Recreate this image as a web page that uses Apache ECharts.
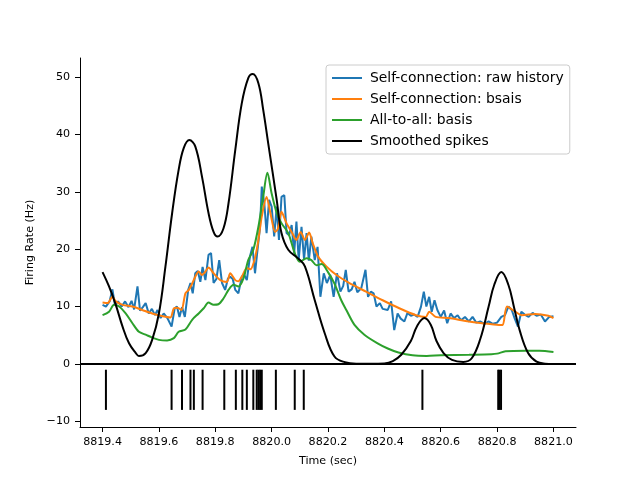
<!DOCTYPE html>
<html><head><meta charset="utf-8">
<script src="https://cdn.jsdelivr.net/npm/echarts@6/dist/echarts.min.js"></script>
<style>html,body{margin:0;padding:0;background:#fff}#c{width:640px;height:480px}</style>
</head><body><div id="c"></div>
<script>
// Self-connection: raw history
const rawT = [8819.400,8819.412,8819.425,8819.435,8819.444,8819.455,8819.468,8819.480,8819.492,8819.503,
8819.512,8819.524,8819.533,8819.543,8819.553,8819.564,8819.575,8819.586,8819.595,8819.606,
8819.617,8819.630,8819.645,8819.656,8819.664,8819.673,8819.682,8819.692,8819.704,8819.712,
8819.720,8819.729,8819.738,8819.747,8819.755,8819.765,8819.776,8819.785,8819.794,8819.804,
8819.814,8819.824,8819.835,8819.845,8819.853,8819.862,8819.871,8819.882,8819.894,8819.902,
8819.912,8819.923,8819.932,8819.941,8819.951,8819.959,8819.965,8819.974,8819.982,8819.991,
8820.000,8820.009,8820.018,8820.026,8820.035,8820.045,8820.053,8820.062,8820.071,8820.080,
8820.088,8820.096,8820.106,8820.115,8820.124,8820.132,8820.141,8820.153,8820.163,8820.173,
8820.185,8820.196,8820.208,8820.220,8820.232,8820.244,8820.254,8820.263,8820.273,8820.284,
8820.294,8820.304,8820.318,8820.333,8820.342,8820.352,8820.362,8820.372,8820.384,8820.394,
8820.412,8820.424,8820.435,8820.447,8820.458,8820.471,8820.482,8820.494,8820.506,8820.518,
8820.530,8820.540,8820.549,8820.559,8820.568,8820.578,8820.588,8820.600,8820.612,8820.623,
8820.635,8820.647,8820.660,8820.672,8820.686,8820.700,8820.713,8820.726,8820.740,8820.755,
8820.770,8820.785,8820.800,8820.815,8820.828,8820.840,8820.852,8820.862,8820.874,8820.886,
8820.898,8820.912,8820.926,8820.940,8820.955,8820.970,8820.985,8821.000];
const rawV = [10.3,10.0,10.9,13.0,10.3,10.9,10.0,10.9,9.9,11.0,
9.5,13.5,9.3,9.9,10.6,8.8,9.6,8.5,9.4,8.0,
8.8,8.0,6.5,9.7,10.0,8.2,9.9,8.2,12.9,14.1,
12.3,15.8,16.2,14.3,16.9,14.6,19.0,19.3,14.1,14.8,
18.1,14.1,12.9,14.9,15.2,14.8,12.9,12.3,15.2,15.6,
14.6,18.7,20.4,15.8,20.4,23.9,30.9,28.0,22.8,28.6,
27.4,22.2,27.4,21.6,29.1,29.4,22.8,22.4,24.2,19.3,
24.8,18.1,23.9,18.2,22.8,18.0,22.2,18.1,20.4,11.7,
15.8,14.1,15.5,11.7,15.8,12.6,13.6,16.4,12.6,13.0,
14.3,12.5,13.2,16.4,11.7,12.6,12.3,10.0,10.6,9.6,
9.4,10.9,5.9,8.8,7.9,7.4,8.9,8.4,8.6,8.2,
10.0,12.6,10.0,11.7,9.1,11.1,9.4,8.2,9.3,7.1,
8.8,8.0,8.5,7.6,8.2,7.4,8.2,7.2,7.4,7.0,
7.4,7.0,7.2,8.2,8.5,10.0,9.4,8.0,6.5,9.1,
8.6,8.2,8.9,8.4,8.6,7.4,8.2,8.3];

// Self-connection: bsais
const bsT = [8819.400,8819.418,8819.435,8819.447,8819.471,8819.506,8819.541,8819.576,8819.606,8819.641,
8819.653,8819.666,8819.680,8819.694,8819.706,8819.718,8819.729,8819.741,8819.753,8819.765,
8819.776,8819.794,8819.818,8819.841,8819.853,8819.871,8819.882,8819.894,8819.912,8819.925,
8819.939,8819.951,8819.965,8819.982,8819.998,8820.012,8820.022,8820.035,8820.053,8820.071,
8820.088,8820.103,8820.118,8820.133,8820.146,8820.165,8820.194,8820.230,8820.276,8820.335,
8820.394,8820.453,8820.512,8820.547,8820.559,8820.582,8820.629,8820.688,8820.747,8820.806,
8820.820,8820.835,8820.865,8820.888,8820.935,8820.982,8821.000];
const bsV = [10.7,10.6,11.7,10.9,10.3,10.0,9.4,8.8,8.4,8.1,
9.7,9.8,9.4,12.3,12.9,14.0,15.2,16.1,15.5,16.1,
16.8,15.8,14.6,14.3,15.8,14.6,14.4,15.2,16.7,16.5,
18.1,21.0,25.7,29.1,25.7,23.0,23.5,26.5,24.5,23.0,
21.6,23.0,21.6,22.9,21.0,18.7,17.0,15.5,14.1,12.6,
11.1,9.7,8.5,8.2,9.1,8.2,8.0,7.5,7.1,6.8,
6.8,10.0,9.1,8.5,8.7,8.4,8.0];

// All-to-all: basis
const a2aT = [8819.400,8819.423,8819.441,8819.459,8819.482,8819.506,8819.529,8819.553,8819.576,8819.600,
8819.629,8819.653,8819.670,8819.694,8819.718,8819.741,8819.759,8819.776,8819.794,8819.811,
8819.829,8819.847,8819.865,8819.882,8819.900,8819.917,8819.935,8819.953,8819.970,8819.985,
8820.000,8820.018,8820.035,8820.059,8820.082,8820.100,8820.124,8820.141,8820.159,8820.177,
8820.200,8820.223,8820.247,8820.264,8820.294,8820.329,8820.376,8820.412,8820.450,8820.500,
8820.550,8820.600,8820.700,8820.780,8820.800,8820.830,8820.900,8820.950,8821.000];
const a2aV = [8.5,9.1,10.3,10.0,8.8,7.1,5.6,5.1,4.6,4.2,
4.1,4.5,5.6,6.0,7.7,8.8,9.7,10.7,10.3,10.4,
11.4,12.9,13.8,13.5,14.9,18.1,19.9,23.9,29.1,33.3,
29.7,26.3,24.5,22.8,19.3,17.8,18.4,18.1,17.2,17.4,
16.0,14.0,11.1,9.5,6.8,5.1,3.6,2.7,2.0,1.5,
1.4,1.5,1.6,1.7,1.8,2.2,2.3,2.3,2.1];

// Smoothed spikes
const smT = [8819.400,8819.423,8819.447,8819.471,8819.494,8819.518,8819.529,8819.553,8819.576,8819.600,
8819.623,8819.647,8819.670,8819.688,8819.708,8819.729,8819.753,8819.776,8819.794,8819.808,
8819.829,8819.847,8819.871,8819.894,8819.917,8819.933,8819.953,8819.970,8819.988,8820.018,
8820.035,8820.059,8820.094,8820.118,8820.153,8820.188,8820.223,8820.260,8820.300,8820.350,
8820.400,8820.430,8820.460,8820.494,8820.515,8820.542,8820.565,8820.585,8820.610,8820.640,
8820.680,8820.710,8820.740,8820.770,8820.790,8820.815,8820.840,8820.860,8820.880,8820.910,
8820.940,8820.970,8821.000];
const smV = [16.0,13.5,10.3,6.5,3.6,1.9,1.4,1.9,4.2,8.8,
16.9,26.3,33.8,37.6,39.0,37.9,32.6,26.3,23.0,22.2,
23.6,28.0,37.3,45.4,49.8,50.5,48.9,44.3,38.4,28.6,
22.8,19.9,18.4,17.0,11.1,5.4,1.3,0.3,0.05,0.05,
0.1,0.5,1.6,4.0,6.5,8.0,6.8,4.0,1.9,0.7,
0.35,1.0,4.3,10.0,13.8,16.0,13.8,9.9,5.9,1.9,
0.4,0.06,0.01];

// Spike times (raster)
const spikeTimes = [8819.412,8819.645,8819.682,8819.712,8819.724,8819.755,8819.832,8819.873,8819.896,8819.912,
8819.935,8819.947,8819.953,8819.959,8819.965,8820.015,8820.082,8820.114,8820.535,8820.804,8820.808,8820.814];
const rasterTop = -1, rasterBottom = -8;

const xTicks = [8819.4,8819.6,8819.8,8820.0,8820.2,8820.4,8820.6,8820.8,8821.0];
const yTicks = [-10,0,10,20,30,40,50];

const zip = (a, b) => a.slice(0, Math.min(a.length, b.length)).map((t, i) => [t, b[i]]);
const FONT = 'DejaVu Sans';
const minus = s => String(s).replace('-', '\u2212');

const chart = echarts.init(document.getElementById('c'), null, {renderer: 'canvas'});
const lineSeries = (name, T, V, color, smooth) => ({
  name, type: 'line', data: zip(T, V), showSymbol: false, symbol: 'none',
  smooth: smooth, lineStyle: {color, width: 2}, itemStyle: {color}, silent: true
});
chart.setOption({
  animation: false,
  backgroundColor: '#fff',
  grid: {left: 80, right: 64, top: 58, bottom: 53},
  legend: {
    data: ['Self-connection: raw history', 'Self-connection: bsais', 'All-to-all: basis', 'Smoothed spikes'],
    orient: 'vertical', left: 326, top: 65,
    icon: 'rect', itemWidth: 30, itemHeight: 2, itemGap: 5,
    padding: [5, 6, 5, 6],
    backgroundColor: 'rgba(255,255,255,0.8)', borderColor: '#cccccc', borderWidth: 1, borderRadius: 3,
    textStyle: {fontFamily: FONT, fontSize: 13.9, color: '#000', lineHeight: 16, padding: [0, 0, 0, 3]}
  },
  xAxis: {
    type: 'value', min: 8819.32, max: 8821.08,
    name: 'Time (sec)', nameLocation: 'middle', nameGap: 29,
    nameTextStyle: {fontFamily: FONT, fontSize: 11.1, color: '#000'},
    axisLine: {show: true, onZero: false, lineStyle: {color: '#000', width: 1}},
    axisTick: {show: true, length: 5, lineStyle: {color: '#000'}, customValues: xTicks},
    axisLabel: {fontFamily: FONT, fontSize: 11.1, color: '#000', margin: 10, customValues: xTicks,
      formatter: v => v.toFixed(1)},
    splitLine: {show: false}
  },
  yAxis: {
    type: 'value', min: -10.98, max: 53.3,
    name: 'Firing Rate (Hz)', nameLocation: 'middle', nameGap: 40,
    nameTextStyle: {fontFamily: FONT, fontSize: 11.1, color: '#000'},
    axisLine: {show: true, onZero: false, lineStyle: {color: '#000', width: 1}},
    axisTick: {show: true, length: 5, lineStyle: {color: '#000'}, customValues: yTicks},
    axisLabel: {fontFamily: FONT, fontSize: 11.1, color: '#000', margin: 10, customValues: yTicks,
      formatter: v => minus(Math.round(v))},
    splitLine: {show: false}
  },
  series: [
    lineSeries('Self-connection: raw history', rawT, rawV, '#1f77b4', false),
    lineSeries('Self-connection: bsais', bsT, bsV, '#ff7f0e', 0.25),
    lineSeries('All-to-all: basis', a2aT, a2aV, '#2ca02c', 0.3),
    Object.assign(lineSeries('Smoothed spikes', smT, smV, '#000000', 0.4), {
      markLine: {silent: true, symbol: ['none', 'none'], label: {show: false},
        lineStyle: {color: '#000', width: 2, type: 'solid'}, data: [{yAxis: 0}]}
    }),
    {
      type: 'custom', silent: true,
      data: spikeTimes.map(t => [t, rasterTop, rasterBottom]),
      encode: {x: 0, y: [1, 2]},
      renderItem: (params, api) => {
        const t = api.value(0);
        const p1 = api.coord([t, api.value(1)]);
        const p2 = api.coord([t, api.value(2)]);
        return {type: 'line', shape: {x1: p1[0], y1: p1[1], x2: p2[0], y2: p2[1]},
          style: {stroke: '#000', lineWidth: 2}};
      }
    }
  ]
});
</script>
</body></html>
